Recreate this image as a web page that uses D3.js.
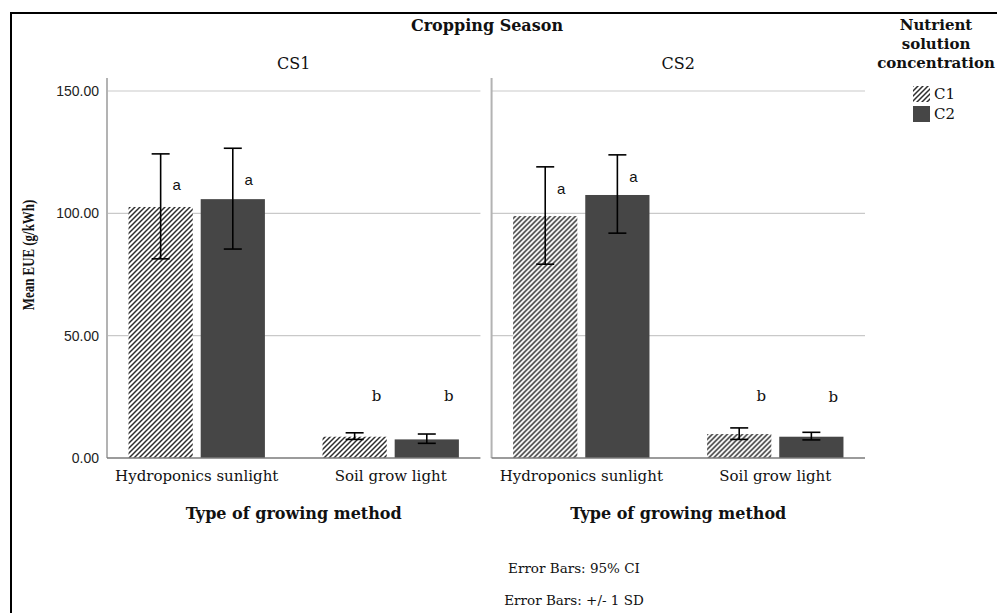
<!DOCTYPE html>
<html>
<head>
<meta charset="utf-8">
<script src="https://cdn.jsdelivr.net/npm/d3@7"></script>
<style>
  body { margin: 0; background: #fff; }
  svg { display: block; }
</style>
</head>
<body>
<svg id="chart" width="997" height="613"></svg>
<script>
// ---- data -------------------------------------------------------------
const seasons = ["CS1", "CS2"];
const methods = ["Hydroponics sunlight", "Soil grow light"];
const concentrations = ["C1", "C2"];
const yTicks = [0, 50, 100, 150];

// Mean EUE (g/kWh), indexed [method][concentration]
const meanCS1 = [[102.6, 105.8], [8.7, 7.6]];
const meanCS2 = [[98.9, 107.5], [9.8, 8.7]];
// error bar limits
const lowCS1  = [[81.4, 85.4], [7.6, 6.0]];
const highCS1 = [[124.3, 126.6], [10.3, 9.8]];
const lowCS2  = [[79.2, 91.9], [7.6, 7.4]];
const highCS2 = [[119.0, 123.9], [12.3, 10.5]];
// significance letters and the value-axis height they sit at
const lettersCS1 = [["a", "a"], ["b", "b"]];
const lettersCS2 = [["a", "a"], ["b", "b"]];
const letterAtCS1 = [[111.6, 113.7], [25.3, 25.3]];
const letterAtCS2 = [[110.0, 114.9], [25.5, 25.0]];

const footnotes = ["Error Bars: 95% CI", "Error Bars: +/- 1 SD"];

// ---- assemble rows ----------------------------------------------------
const bySeason = {
  CS1: { mean: meanCS1, low: lowCS1, high: highCS1, letters: lettersCS1, letterAt: letterAtCS1 },
  CS2: { mean: meanCS2, low: lowCS2, high: highCS2, letters: lettersCS2, letterAt: letterAtCS2 }
};
const rows = [];
seasons.forEach(s => methods.forEach((m, mi) => concentrations.forEach((c, ci) => {
  const t = bySeason[s];
  rows.push({
    season: s, method: m, conc: c, mi,
    mean: t.mean[mi][ci], low: t.low[mi][ci], high: t.high[mi][ci],
    letter: t.letters[mi][ci], letterAt: t.letterAt[mi][ci]
  });
})));

// ---- layout -----------------------------------------------------------
const SERIF = "'DejaVu Serif', serif";
const SERIF_T = "'Liberation Serif', 'Times New Roman', serif";
const SANS = "'Liberation Sans', Arial, sans-serif";
const svg = d3.select("#chart");

const y = d3.scaleLinear().domain([0, 150]).range([458, 91]);
const xPanel = d3.scaleBand().domain(seasons).range([107, 865]).paddingInner(0.029);
const xMethod = d3.scaleBand().domain(methods).range([0, xPanel.bandwidth()])
  .paddingInner(0.297).paddingOuter(0.111);
const xConc = d3.scaleBand().domain(concentrations).range([0, xMethod.bandwidth()])
  .paddingInner(0.11);

// diagonal hatch used for C1
const defs = svg.append("defs");
const pat = defs.append("pattern")
  .attr("id", "hatch").attr("patternUnits", "userSpaceOnUse")
  .attr("width", 5).attr("height", 5);
pat.append("rect").attr("width", 5).attr("height", 5).attr("fill", "#fff");
pat.append("path")
  .attr("d", "M-1,1 L1,-1 M0,5 L5,0 M4,6 L6,4")
  .attr("stroke", "#2e2e2e").attr("stroke-width", 1.5);

const fillFor = c => c === "C1" ? "url(#hatch)" : "#464646";

// outer frame
svg.append("rect").attr("x", 11).attr("y", 13).attr("width", 1000).attr("height", 700)
  .attr("fill", "none").attr("stroke", "#000").attr("stroke-width", 2);

// ---- panels -----------------------------------------------------------
seasons.forEach(s => {
  const x0 = xPanel(s), x1 = x0 + xPanel.bandwidth();
  const g = svg.append("g").attr("transform", `translate(${x0},0)`);

  // grid lines
  g.selectAll("line.grid").data(yTicks.filter(d => d > 0)).join("line")
    .attr("class", "grid")
    .attr("x1", 0).attr("x2", x1 - x0)
    .attr("y1", d => y(d)).attr("y2", d => y(d))
    .attr("stroke", "#c9c9c9").attr("stroke-width", 1.2);

  // bars
  const pr = rows.filter(r => r.season === s);
  const bx = r => xMethod(r.method) + xConc(r.conc);
  const cx = r => bx(r) + xConc.bandwidth() / 2;
  g.selectAll("rect.bar").data(pr).join("rect")
    .attr("class", "bar")
    .attr("x", bx).attr("width", xConc.bandwidth())
    .attr("y", r => y(r.mean)).attr("height", r => y(0) - y(r.mean))
    .attr("fill", r => fillFor(r.conc));

  // axis lines
  g.append("line").attr("x1", 0).attr("x2", 0).attr("y1", 78).attr("y2", y(0))
    .attr("stroke", "#b3b3b3").attr("stroke-width", 2);
  g.append("line").attr("x1", 0).attr("x2", x1 - x0).attr("y1", y(0)).attr("y2", y(0))
    .attr("stroke", "#7a7a7a").attr("stroke-width", 1.5);

  // error bars
  const eb = g.selectAll("g.err").data(pr).join("g").attr("class", "err")
    .attr("stroke", "#000").attr("stroke-width", 1.6);
  eb.append("line").attr("x1", cx).attr("x2", cx)
    .attr("y1", r => y(r.low)).attr("y2", r => y(r.high));
  eb.append("line").attr("x1", r => cx(r) - 9).attr("x2", r => cx(r) + 9)
    .attr("y1", r => y(r.high)).attr("y2", r => y(r.high));
  eb.append("line").attr("x1", r => cx(r) - 9).attr("x2", r => cx(r) + 9)
    .attr("y1", r => y(r.low)).attr("y2", r => y(r.low));

  // significance letters
  g.selectAll("text.sig").data(pr).join("text")
    .attr("class", "sig")
    .attr("x", r => cx(r) + (r.mi === 0 ? 16 : 22))
    .attr("y", r => y(r.letterAt))
    .attr("dy", "0.35em")
    .attr("text-anchor", "middle")
    .attr("font-family", r => r.mi === 0 ? SANS : SERIF)
    .attr("font-size", 15)
    .attr("fill", "#111")
    .text(r => r.letter);

  // category axis
  const ax = g.append("g").attr("transform", `translate(0,${y(0)})`)
    .call(d3.axisBottom(xMethod).tickSize(0).tickPadding(12));
  ax.select(".domain").remove();
  ax.selectAll("text").attr("font-family", SERIF).attr("font-size", 15).attr("fill", "#111");

  // season label
  g.append("text").attr("x", (x1 - x0) / 2).attr("y", 63).attr("dy", "0.35em")
    .attr("text-anchor", "middle").attr("font-family", SERIF).attr("font-size", 16)
    .attr("fill", "#111").text(s);

  // x-axis title
  g.append("text").attr("x", (x1 - x0) / 2).attr("y", 513).attr("dy", "0.35em")
    .attr("text-anchor", "middle").attr("font-family", SERIF).attr("font-weight", "bold")
    .attr("font-size", 16).attr("fill", "#111").text("Type of growing method");
});

// value axis labels (left panel only)
const yAxis = svg.append("g").attr("transform", `translate(${xPanel("CS1")},0)`)
  .call(d3.axisLeft(y).tickValues(yTicks).tickFormat(d3.format(".2f")).tickSize(0).tickPadding(8));
yAxis.select(".domain").remove();
yAxis.selectAll("text").attr("font-family", SANS).attr("font-size", 14).attr("fill", "#222");

// value axis title (narrow bold serif)
svg.append("text")
  .attr("transform", "translate(28,255) rotate(-90) scale(0.76,1)")
  .attr("dy", "0.35em").attr("text-anchor", "middle")
  .attr("font-family", SERIF_T).attr("font-weight", "bold").attr("font-size", 17)
  .attr("fill", "#111").text("Mean EUE (g/kWh)");

// facet title
svg.append("text").attr("x", 487).attr("y", 25).attr("dy", "0.35em")
  .attr("text-anchor", "middle").attr("font-family", SERIF).attr("font-weight", "bold")
  .attr("font-size", 16).attr("fill", "#111").text("Cropping Season");

// legend
const legTitle = ["Nutrient", "solution", "concentration"];
svg.selectAll("text.legt").data(legTitle).join("text").attr("class", "legt")
  .attr("x", 936).attr("y", (d, i) => 25 + i * 19).attr("dy", "0.35em")
  .attr("text-anchor", "middle").attr("font-family", SERIF).attr("font-weight", "bold")
  .attr("font-size", 15).attr("fill", "#111").text(d => d);
const leg = svg.selectAll("g.leg").data(concentrations).join("g").attr("class", "leg")
  .attr("transform", (d, i) => `translate(913,${86 + i * 20})`);
leg.append("rect").attr("width", 17).attr("height", 16).attr("fill", fillFor);
leg.append("text").attr("x", 21).attr("y", 8).attr("dy", "0.35em")
  .attr("font-family", SERIF).attr("font-size", 15).attr("fill", "#111").text(d => d);

// footnotes
svg.selectAll("text.foot").data(footnotes).join("text").attr("class", "foot")
  .attr("x", 574).attr("y", (d, i) => 568 + i * 32).attr("dy", "0.35em")
  .attr("text-anchor", "middle").attr("font-family", SERIF).attr("font-size", 13.5)
  .attr("fill", "#111").text(d => d);
</script>
</body>
</html>
